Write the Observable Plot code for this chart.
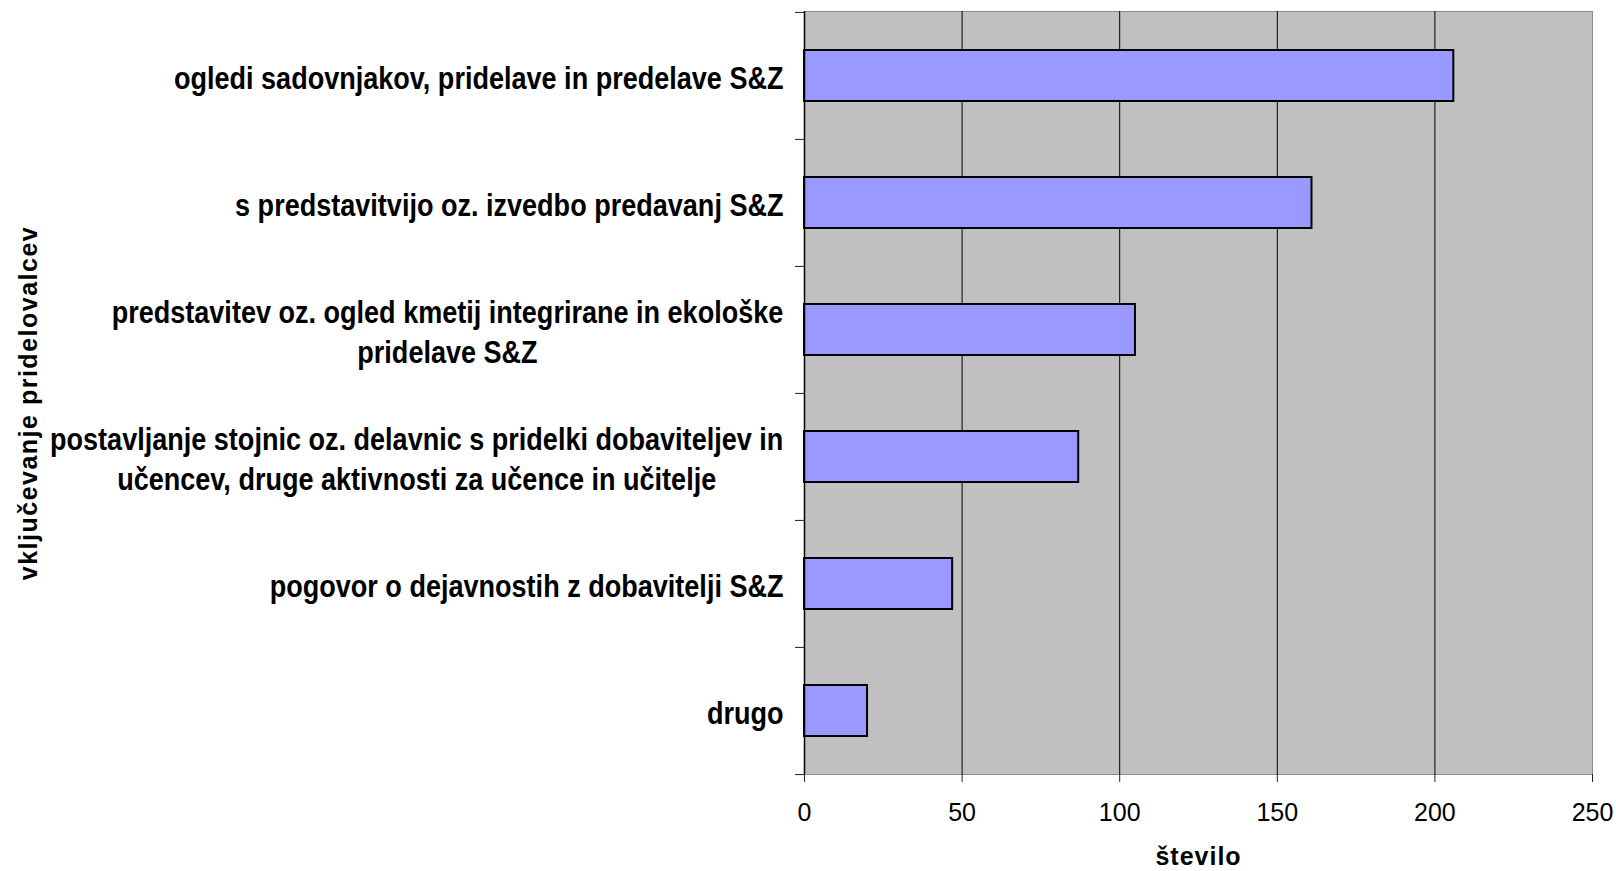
<!DOCTYPE html>
<html>
<head>
<meta charset="utf-8">
<script src="https://cdn.jsdelivr.net/npm/d3@7"></script>
<script src="https://cdn.jsdelivr.net/npm/@observablehq/plot@0.6"></script>
<style>
  html, body { margin: 0; padding: 0; background: #fff; }
  #chart svg { display: block; }
  .xtitle text { letter-spacing: 1px; }
  .ytitle text { letter-spacing: 1.5px; }
</style>
</head>
<body>
<div id="chart"></div>
<script>
const categories = [
  "ogledi sadovnjakov, pridelave in predelave S&Z",
  "s predstavitvijo oz. izvedbo predavanj S&Z",
  "predstavitev oz. ogled kmetij integrirane in ekološke\npridelave S&Z",
  "postavljanje stojnic oz. delavnic s pridelki dobaviteljev in\nučencev, druge aktivnosti za učence in učitelje",
  "pogovor o dejavnostih z dobavitelji S&Z",
  "drugo"
];
const values = [206, 161, 105, 87, 47, 20];
const xTicks = [0, 50, 100, 150, 200, 250];
const gridValues = [50, 100, 150, 200];
const xTitle = "število";
const yTitle = "vključevanje pridelovalcev";

const data = categories.map((c, i) => ({category: c, value: values[i]}));

const W = 1616, H = 871;
const mLeft = 804, mRight = 24, mTop = 11, mBottom = 97;
const bandStep = (H - mTop - mBottom) / categories.length;
const labelScaleX = 0.887;

const chart = Plot.plot({
  width: W,
  height: H,
  marginLeft: mLeft,
  marginRight: mRight,
  marginTop: mTop,
  marginBottom: mBottom,
  style: {fontFamily: "'Liberation Sans', Arial, sans-serif", background: "#fff", color: "#000", overflow: "visible"},
  x: {domain: [0, 250]},
  y: {domain: categories, paddingInner: 0.6, paddingOuter: 0.3, align: 0.5},
  marks: [
    Plot.frame({fill: "#c0c0c0", stroke: "#8c8c8c", strokeWidth: 1}),
    Plot.ruleX(gridValues, {stroke: "#000", strokeWidth: 1}),
    Plot.barX(data, {y: "category", x: "value", fill: "#9999ff", stroke: "#000", strokeWidth: 2}),
    Plot.ruleX([0], {stroke: "#000", strokeWidth: 1.5}),
    Plot.ruleY([0], {frameAnchor: "bottom", stroke: "#222", strokeWidth: 1.5}),
    Plot.axisX(xTicks, {
      tickSize: 8, tickPadding: 21, fontSize: 25, label: null, stroke: "#222"
    }),
    // category labels
    Plot.axisY({
      tickSize: 0, tickPadding: 21, fontSize: 30.5, fontWeight: "bold",
      lineHeight: 1.3, label: null, className: "ylabels"
    }),
    // boundary tick marks between categories
    Plot.axisY({
      tickSize: 9, tickFormat: () => "", dy: -bandStep / 2, label: null, stroke: "#222"
    }),
    Plot.axisY([categories[categories.length - 1]], {
      tickSize: 9, tickFormat: () => "", dy: bandStep / 2, label: null, stroke: "#222"
    }),
    Plot.text([xTitle], {
      frameAnchor: "bottom", textAnchor: "middle", lineAnchor: "middle", dy: 82,
      fontSize: 25, fontWeight: "bold", className: "xtitle"
    }),
    Plot.text([yTitle], {
      frameAnchor: "left", textAnchor: "middle", lineAnchor: "middle", dx: -776, dy: 10, rotate: -90,
      fontSize: 25, fontWeight: "bold", className: "ytitle"
    })
  ]
});

document.getElementById("chart").appendChild(chart);

// condensed bold labels; lines of multi-line labels centred on each other
chart.querySelectorAll(".ylabels text").forEach(t => {
  const spans = t.querySelectorAll("tspan");
  if (spans.length > 1) {
    const w = t.getBBox().width;
    t.setAttribute("text-anchor", "middle");
    spans.forEach(s => s.setAttribute("x", -w / 2));
  }
  const tr = t.getAttribute("transform") || "";
  t.setAttribute("transform", tr + ` scale(${labelScaleX},1)`);
});
</script>
</body>
</html>
